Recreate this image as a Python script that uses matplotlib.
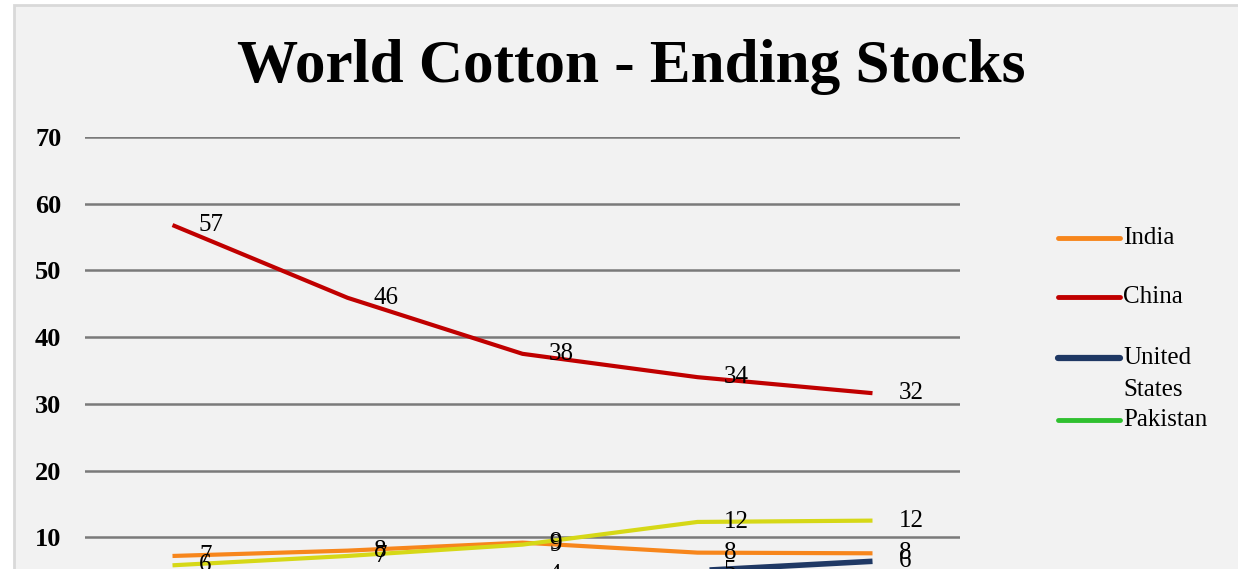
import matplotlib.pyplot as plt
from matplotlib.patches import Rectangle
from matplotlib.lines import Line2D

# values
years = ["2013", "2014", "2015", "2016", "2017"]
india = [7.2, 8.0, 9.2, 7.7, 7.6]
china = [56.8, 45.9, 37.5, 34.0, 31.6]
us = [3.2, 3.6, 4.3, 5.0, 6.4]
pakistan = [5.8, 7.2, 8.9, 12.3, 12.5]

names = ["India", "China", "United\nStates", "Pakistan"]
series = [india, china, us, pakistan]
line_colors = ["#f7861c", "#c00000", "#1f3864", "#d6d817"]
legend_colors = ["#f7861c", "#c00000", "#1f3864", "#2fc02f"]
widths = [3, 3, 4, 3]

W, H = 1238, 569
fig = plt.figure(figsize=(W / 100, H / 100), dpi=100)
fig.patch.set_facecolor("white")
fig.add_artist(Rectangle((14 / W, -0.1), 1.1, 1 - 5 / H + 0.1, transform=fig.transFigure,
                         facecolor="#f2f2f2", edgecolor="#d9d9d9", lw=2, zorder=-5))

# axes reaches below the figure: the reference is cut off under the 10 line
top = 137
bottom = 604
ax = fig.add_axes([85 / W, 1 - bottom / H, (960 - 85) / W, (bottom - top) / H])
ax.set_facecolor("none")

x = list(range(len(years)))
for vals, c, lw in zip(series, line_colors, widths):
    ax.plot(x, vals, color=c, lw=lw, solid_capstyle="butt")
    for xi, v in zip(x, vals):
        ax.annotate(f"{v:.0f}", (xi, v), xytext=(19, 0), textcoords="offset points",
                    ha="left", va="center", fontsize=18, family="Liberation Serif",
                    color="black", zorder=10)

ax.set_xlim(-0.5, len(years) - 0.5)
ax.set_ylim(0, 70)
ax.set_yticks(range(0, 71, 10))
ax.set_xticks([])
ax.yaxis.grid(True, color="#7a7a7a", lw=1.8)
ax.set_axisbelow(True)
for s in ax.spines.values():
    s.set_visible(False)
ax.tick_params(axis="y", length=0, pad=17)
for t in ax.get_yticklabels():
    t.set_fontfamily("Liberation Serif")
    t.set_fontweight("bold")
    t.set_fontsize(19)

fig.text(631 / W, 1 - 67 / H, "World Cotton - Ending Stocks", ha="center", va="center",
         fontsize=44, fontweight="bold", family="Liberation Serif")

# legend, laid out by hand like the Excel one (long names wrap onto a second line)
leg_y = [238, 297, 358, 420]
for name, c, lw, yy in zip(names, legend_colors, widths, leg_y):
    yf = 1 - yy / H
    fig.add_artist(Line2D([1058 / W, 1120 / W], [yf, yf], color=c, lw=lw + 0.5,
                          solid_capstyle="round", transform=fig.transFigure))
    for k, part in enumerate(name.split("\n")):
        fig.text(1123 / W, 1 - (yy + 32 * k) / H, part, ha="left", va="center",
                 fontsize=18, family="Liberation Serif")

fig.savefig("out.png", dpi=100)
